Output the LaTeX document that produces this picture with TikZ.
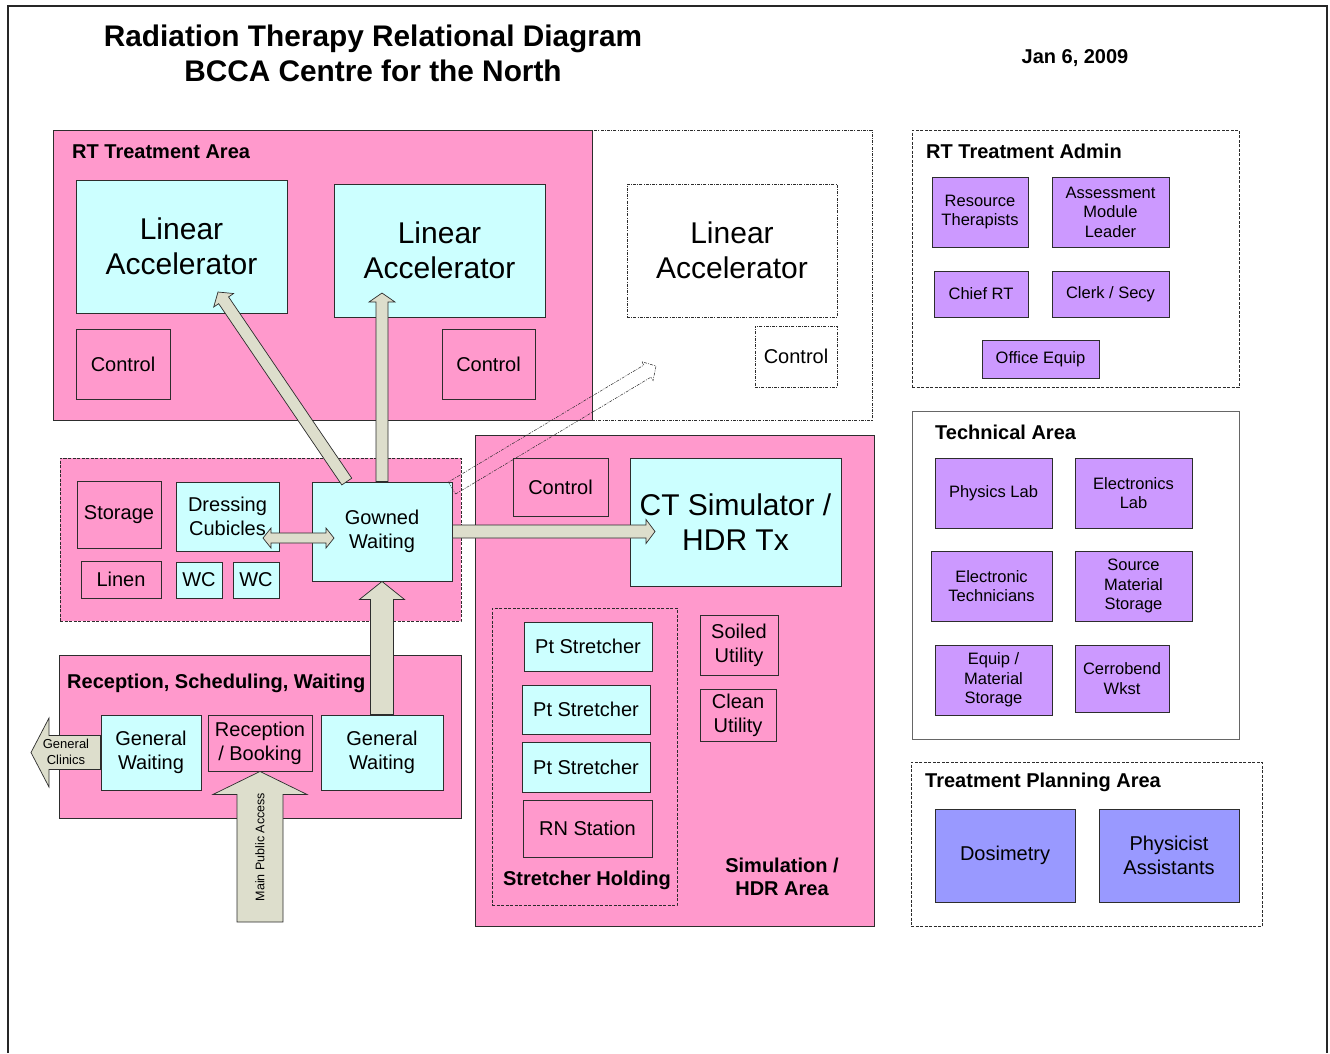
\documentclass[tikz,border=0pt]{standalone}
\usepackage{fontspec}
\setmainfont{Liberation Sans}
\usetikzlibrary{calc}

\definecolor{roompink}{RGB}{255,153,204}
\definecolor{roomcyan}{RGB}{204,255,255}
\definecolor{staffviolet}{RGB}{204,153,255}
\definecolor{planblue}{RGB}{153,153,255}
\definecolor{flowtan}{RGB}{221,222,204}
\definecolor{edgegray}{RGB}{45,45,45}

\tikzset{
  room/.style={draw=edgegray, line width=0.9pt, inner sep=0pt, align=center,
    font=\fontsize{20}{24}\selectfont},
  pinkroom/.style={room, fill=roompink},
  cyanroom/.style={room, fill=roomcyan},
  violetroom/.style={room, fill=staffviolet, font=\fontsize{16.5}{19.5}\selectfont},
  blueroom/.style={room, fill=planblue},
  futureroom/.style={room, fill=white, line width=0.6pt,
    dash pattern=on 3pt off 1.2pt on 1pt off 1.2pt},
  bigtext/.style={font=\fontsize{30}{35}\selectfont},
  zone/.style={draw=edgegray, line width=0.9pt, inner sep=0pt},
  pinkzone/.style={zone, fill=roompink},
  dashzone/.style={zone, line width=0.6pt, dash pattern=on 3pt off 1.5pt},
  futurezone/.style={zone, fill=white, line width=0.6pt,
    dash pattern=on 3pt off 1.2pt on 1pt off 1.2pt},
  zonetitle/.style={inner sep=0pt, font=\bfseries\fontsize{20}{23}\selectfont},
  flowshape/.style={fill=flowtan, draw=edgegray, line width=0.7pt, line join=miter},
  futureflow/.style={draw=edgegray, line width=0.5pt,
    dash pattern=on 3pt off 1.2pt on 1pt off 1.2pt},
  flowlabel/.style={inner sep=0pt, align=center}
}

% box given by its corners: name, style, x1, y1, x2, y2, text
\newcommand\roombox[7]{%
  \pgfmathsetmacro\rbw{#5-#3}%
  \pgfmathsetmacro\rbh{#6-#4}%
  \pgfmathsetmacro\rbx{(#3+#5)/2}%
  \pgfmathsetmacro\rby{(#4+#6)/2}%
  \node[#2, minimum width=\rbw pt, minimum height=\rbh pt] (#1) at (\rbx,\rby) {#7};}

% block arrow: [style] from, to, shaft half width, head half width, head length
\newcommand\flowarrow[6][flowshape]{%
  \coordinate (fa-hb) at ($(#3)!#6pt!(#2)$);
  \path[#1] ($(#2)!#4pt!-90:(#3)$) -- ($(fa-hb)!#4pt!-90:(#3)$)
    -- ($(fa-hb)!#5pt!-90:(#3)$) -- (#3) -- ($(fa-hb)!#5pt!90:(#3)$)
    -- ($(fa-hb)!#4pt!90:(#3)$) -- ($(#2)!#4pt!90:(#3)$) -- cycle;}

% block arrow with a head at both ends
\newcommand\twowayarrow[5]{%
  \coordinate (ta-h1) at ($(#1)!#5pt!(#2)$);
  \coordinate (ta-h2) at ($(#2)!#5pt!(#1)$);
  \path[flowshape] (#1) -- ($(ta-h1)!#4pt!90:(#2)$) -- ($(ta-h1)!#3pt!90:(#2)$)
    -- ($(ta-h2)!#3pt!90:(#2)$) -- ($(ta-h2)!#4pt!90:(#2)$) -- (#2)
    -- ($(ta-h2)!#4pt!-90:(#2)$) -- ($(ta-h2)!#3pt!-90:(#2)$)
    -- ($(ta-h1)!#3pt!-90:(#2)$) -- ($(ta-h1)!#4pt!-90:(#2)$) -- cycle;}

\begin{document}
\begin{tikzpicture}[x=1pt, y=-1pt]
\useasboundingbox (0,0) rectangle (1330,1053);
\fill[white] (0,0) rectangle (1330,1053);

% page frame
\draw[line width=1.6pt, black!85] (8,1053) -- (8,6) -- (1327,6) -- (1327,1053);

% heading
\node[inner sep=0pt, align=center, font=\bfseries\fontsize{29.8}{35}\selectfont] (heading) at (373,53)
  {Radiation Therapy Relational Diagram\\BCCA Centre for the North};
\node[inner sep=0pt, font=\bfseries\fontsize{20}{24}\selectfont] (date) at (1075,58) {Jan 6, 2009};

% ---------------- RT treatment area ----------------
\roombox{futurearea}{futurezone}{592}{130}{872}{420}{}
\roombox{rtarea}{pinkzone}{53}{130}{592}{420}{}
\node[zonetitle, anchor=base west] (rttitle) at (72,158) {RT Treatment Area};
\roombox{linacA}{cyanroom,bigtext}{76}{180}{287}{313}{Linear\\Accelerator}
\roombox{linacB}{cyanroom,bigtext}{334}{184}{545}{317}{Linear\\Accelerator}
\roombox{linacC}{futureroom,bigtext}{627}{184}{837}{317}{Linear\\Accelerator}
\roombox{ctrlA}{pinkroom}{76}{329}{170}{399}{Control}
\roombox{ctrlB}{pinkroom}{442}{329}{535}{399}{Control}
\roombox{ctrlC}{futureroom}{755}{326}{837}{387}{Control}

% ---------------- change rooms ----------------
\roombox{changezone}{pinkzone,dash pattern=on 3pt off 1.5pt,line width=0.6pt}{60}{458}{461}{621}{}
\roombox{storage}{pinkroom}{77}{481}{161}{548}{Storage}
\roombox{dressing}{cyanroom}{176}{482}{279}{551}{Dressing\\Cubicles}
\roombox{linen}{pinkroom}{81}{561}{161}{598}{Linen}
\roombox{wcA}{cyanroom}{176}{562}{222}{598}{WC}
\roombox{wcB}{cyanroom}{233}{562}{279}{598}{WC}
\roombox{gowned}{cyanroom}{312}{482}{452}{581}{Gowned\\Waiting}

% ---------------- simulation / HDR ----------------
\roombox{simarea}{pinkzone}{475}{435}{874}{926}{}
\roombox{ctrlD}{pinkroom}{513}{458}{608}{516}{Control}
\roombox{ctsim}{cyanroom,bigtext}{630}{458}{841}{586}{CT Simulator /\\HDR Tx}
\roombox{holding}{dashzone}{492}{608}{677}{905}{}
\roombox{ptA}{cyanroom}{524}{622}{652}{671}{Pt Stretcher}
\roombox{ptB}{cyanroom}{522}{685}{650}{734}{Pt Stretcher}
\roombox{ptC}{cyanroom}{522}{742}{650}{792}{Pt Stretcher}
\roombox{rn}{pinkroom}{523}{800}{652}{857}{RN Station}
\node[zonetitle] (holdtitle) at (587,880) {Stretcher Holding};
\roombox{soiled}{pinkroom}{700}{615}{778}{675}{Soiled\\Utility}
\roombox{clean}{pinkroom}{700}{689}{776}{741}{Clean\\Utility}
\node[zonetitle, align=center] (simtitle) at (782,877) {Simulation /\\HDR Area};

% ---------------- reception ----------------
\roombox{reception}{pinkzone}{59}{655}{461}{818}{}
\node[zonetitle, anchor=base west] (rectitle) at (67,688) {Reception, Scheduling, Waiting};
\roombox{waitA}{cyanroom}{101}{715}{201}{790}{General\\Waiting}
\roombox{booking}{pinkroom}{208}{715}{312}{771}{Reception\\/ Booking}
\roombox{waitB}{cyanroom}{321}{715}{443}{790}{General\\Waiting}

% ---------------- admin ----------------
\roombox{adminzone}{dashzone}{912}{130}{1239}{387}{}
\node[zonetitle, anchor=base west] (admintitle) at (926,158) {RT Treatment Admin};
\roombox{resource}{violetroom}{932}{177}{1028}{247}{Resource\\Therapists}
\roombox{assess}{violetroom}{1052}{177}{1169}{247}{Assessment\\Module\\Leader}
\roombox{chief}{violetroom}{934}{271}{1028}{317}{Chief RT}
\roombox{clerk}{violetroom}{1052}{271}{1169}{317}{Clerk / Secy}
\roombox{office}{violetroom}{982}{340}{1099}{378}{Office Equip}

% ---------------- technical ----------------
\roombox{techzone}{zone,draw=black!60}{912}{411}{1239}{739}{}
\node[zonetitle, anchor=base west] (techtitle) at (935,439) {Technical Area};
\roombox{physlab}{violetroom}{935}{458}{1052}{528}{Physics Lab}
\roombox{eleclab}{violetroom}{1075}{458}{1192}{528}{Electronics\\Lab}
\roombox{electech}{violetroom}{931}{551}{1052}{621}{Electronic\\Technicians}
\roombox{source}{violetroom}{1075}{551}{1192}{621}{Source\\Material\\Storage}
\roombox{equip}{violetroom}{935}{645}{1052}{715}{Equip /\\Material\\Storage}
\roombox{cerro}{violetroom}{1075}{645}{1169}{712}{Cerrobend\\Wkst}

% ---------------- treatment planning ----------------
\roombox{planzone}{dashzone}{911}{762}{1262}{926}{}
\node[zonetitle, anchor=base west] (plantitle) at (925,787) {Treatment Planning Area};
\roombox{dosimetry}{blueroom}{935}{809}{1075}{902}{Dosimetry}
\roombox{physasst}{blueroom}{1099}{809}{1239}{902}{Physicist\\Assistants}

% ---------------- patient flow ----------------
\coordinate (gwTopLeft) at ($(gowned.north west)!0.25!(gowned.north east)$);
\coordinate (linacAtip) at (218,292);
\coordinate (linacBtip) at (382,293);
\coordinate (dressEnd) at (263,538);
\coordinate (gownEnd) at (334,538);
\coordinate (ctTip) at (655,531.5);
\coordinate (gwSide) at (452,488);
\coordinate (linacCtip) at (656,366);
\coordinate (entry) at (260,922);
\coordinate (clinicTip) at (31,752.5);

\flowarrow{gwTopLeft}{linacAtip}{6}{12}{10}
\flowarrow{gowned.north}{linacBtip}{6}{13}{9}
\twowayarrow{dressEnd}{gownEnd}{5}{10}{8}
\flowarrow{gowned.east}{ctTip}{6.5}{12}{9}
\flowarrow[futureflow]{gwSide}{linacCtip}{7}{11}{10}
\flowarrow{waitB.north}{gowned.south}{11.5}{22.5}{18}
\flowarrow{entry}{booking.south}{23}{47}{23}
\flowarrow{waitA.west}{clinicTip}{17}{34.5}{18}

\node[flowlabel, font=\fontsize{13}{15.5}\selectfont] (clinics) at (66,752) {General\\Clinics};
\node[flowlabel, rotate=90, font=\fontsize{12.5}{15}\selectfont] (access) at (260,847) {Main Public Access};
\end{tikzpicture}
\end{document}
